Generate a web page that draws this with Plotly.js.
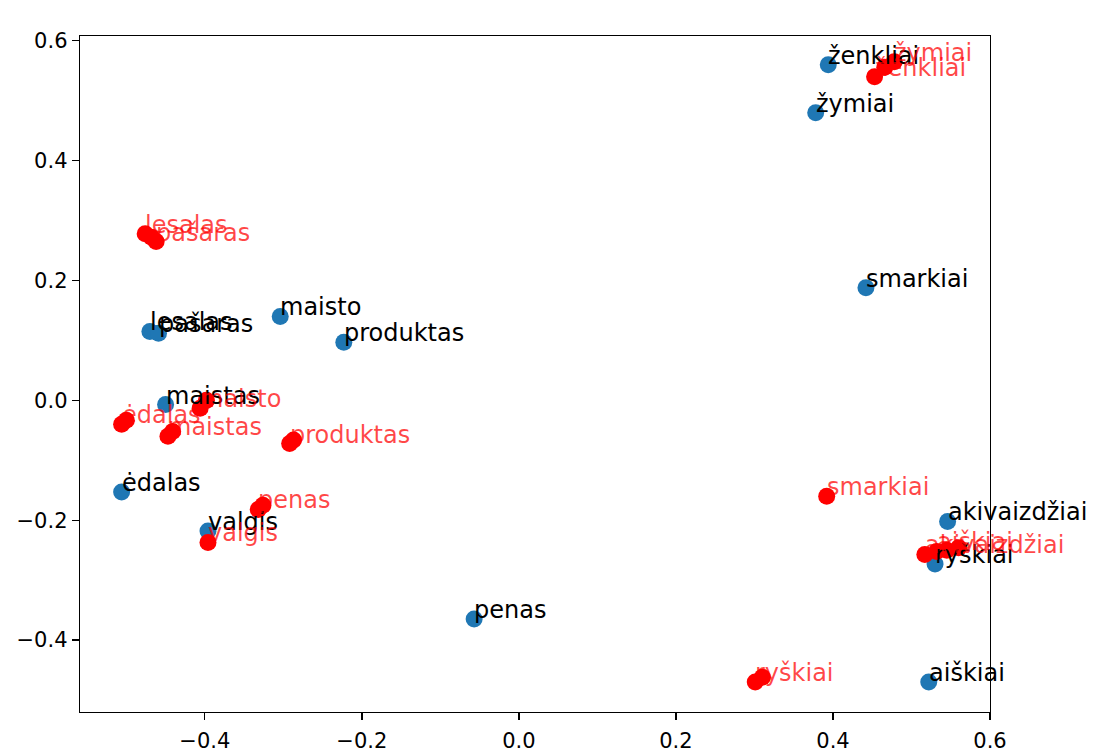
<!DOCTYPE html>
<html>
<head>
<meta charset="utf-8">
<script src="https://cdn.plot.ly/plotly-3.0.1.min.js"></script>
<style>html,body{margin:0;padding:0;background:#fff;}#chart{width:1097px;height:751px;}</style>
</head>
<body>
<div id="chart"></div>
<script>
// Blue (original) word points
const blueWords = ["ženkliai","žymiai","smarkiai","lesalas","pašaras","maisto","produktas","maistas","ėdalas","valgis","penas","akivaizdžiai","ryškiai","aiškiai"];
const blueX = [0.394,0.378,0.442,-0.470,-0.459,-0.304,-0.223,-0.450,-0.506,-0.396,-0.057,0.546,0.530,0.522];
const blueY = [0.560,0.480,0.188,0.115,0.112,0.140,0.097,-0.007,-0.153,-0.218,-0.365,-0.202,-0.273,-0.470];

// Red (mapped) word points
const redWords = ["ženkliai","žymiai","lesalas","pašaras","maisto","ėdalas","maistas","produktas","penas","valgis","smarkiai","akivaizdžiai","aiškiai","ryškiai"];
const redX = [0.453,0.478,-0.476,-0.462,-0.406,-0.506,-0.447,-0.292,-0.332,-0.396,0.392,0.517,0.532,0.301];
const redY = [0.540,0.565,0.278,0.265,-0.013,-0.040,-0.060,-0.072,-0.182,-0.237,-0.160,-0.257,-0.252,-0.470];

// Extra unlabeled red points forming the clusters
const redExtraX = [0.466,-0.468,-0.398,-0.326,0.545,0.560,0.310,-0.287,-0.441,-0.500];
const redExtraY = [0.556,0.272,0.000,-0.175,-0.250,-0.246,-0.462,-0.066,-0.052,-0.033];

const tickVals = [-0.4,-0.2,0,0.2,0.4,0.6];
const tickText = ["−0.4","−0.2","0.0","0.2","0.4","0.6"];

const FONT = "DejaVu Sans, sans-serif";
const LABEL_SIZE = 24;

const traces = [
  {x: blueX, y: blueY, mode: "markers", type: "scatter",
   marker: {color: "#1f77b4", size: 17}, hoverinfo: "none", cliponaxis: true},
  {x: redX.concat(redExtraX), y: redY.concat(redExtraY), mode: "markers", type: "scatter",
   marker: {color: "#ff0000", size: 17}, hoverinfo: "none", cliponaxis: true}
];

const annotations = [];
blueWords.forEach((w, i) => annotations.push({
  x: blueX[i], y: blueY[i], xref: "x", yref: "y", text: w, showarrow: false,
  xanchor: "left", yanchor: "bottom", yshift: -7, xshift: -2,
  font: {family: FONT, size: LABEL_SIZE, color: "#000000"}
}));
redWords.forEach((w, i) => annotations.push({
  x: redX[i], y: redY[i], xref: "x", yref: "y", text: w, showarrow: false,
  xanchor: "left", yanchor: "bottom", yshift: -7, xshift: -2,
  font: {family: FONT, size: LABEL_SIZE, color: "rgba(255,0,0,0.72)"}
}));

const axisCommon = {
  showgrid: false, zeroline: false, showline: true, mirror: true,
  linecolor: "#000", linewidth: 1.3, ticks: "outside", ticklen: 7, tickwidth: 1.3,
  tickcolor: "#000", tickfont: {family: FONT, size: 21, color: "#000"},
  tickvals: tickVals, ticktext: tickText
};

const layout = {
  width: 1097, height: 751,
  margin: {l: 80, r: 107, t: 36, b: 39},
  paper_bgcolor: "#fff", plot_bgcolor: "#fff",
  showlegend: false,
  xaxis: Object.assign({}, axisCommon, {range: [-0.559, 0.600], ticklabelstandoff: 2}),
  yaxis: Object.assign({}, axisCommon, {range: [-0.520, 0.608]}),
  annotations: annotations
};

Plotly.newPlot("chart", traces, layout, {displayModeBar: false, staticPlot: true});
</script>
</body>
</html>
